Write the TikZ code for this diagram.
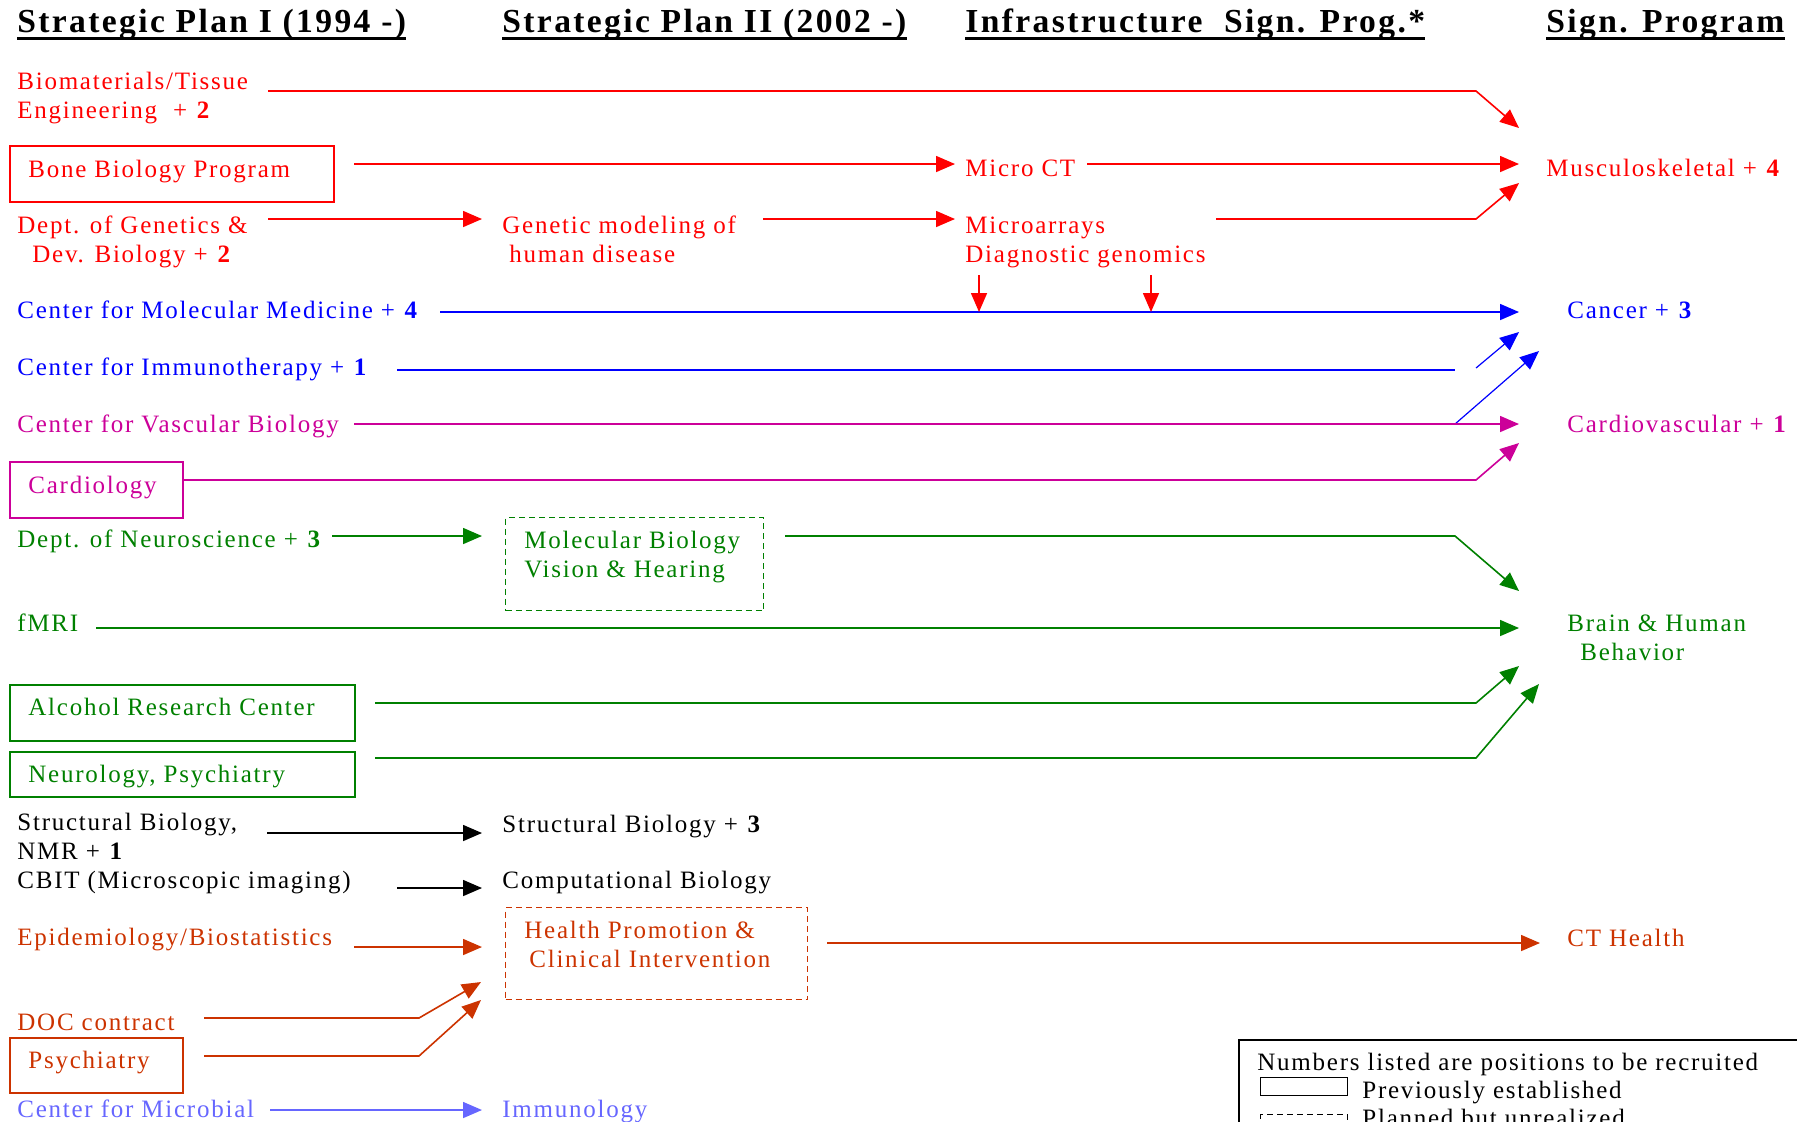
\documentclass[tikz,border=0pt]{standalone}
\usepackage{fontspec}
\setmainfont{Liberation Serif}[LetterSpace=7]
\usetikzlibrary{arrows.meta}

\definecolor{spred}{RGB}{255,0,0}
\definecolor{spblue}{RGB}{0,0,255}
\definecolor{spmag}{RGB}{204,0,153}
\definecolor{spgreen}{RGB}{0,128,0}
\definecolor{sporange}{RGB}{204,51,0}
\definecolor{splight}{RGB}{102,102,255}

\tikzset{
  hdr/.style={anchor=base west, inner sep=0pt, font=\fontsize{16.8}{18}\selectfont\bfseries},
  lbl/.style={anchor=base west, inner sep=0pt, align=left, font=\fontsize{12.5}{14.5}\selectfont},
  prevbox/.style={draw, line width=0.8pt, anchor=north west, inner sep=0pt},
  planbox/.style={draw, line width=0.6pt, dash pattern=on 3pt off 2pt, anchor=north west, inner sep=0pt},
  flow/.style={line width=0.8pt, -{Triangle[length=9.5pt,width=8pt]}},
  thinflow/.style={line width=0.6pt, -{Triangle[length=9.5pt,width=8pt]}},
}

\begin{document}
\begin{tikzpicture}[x=0.5pt,y=-0.5pt]
  \useasboundingbox (0,0) rectangle (1797,1121);

  % headings
  \node[hdr] (h1) at (17,32)   {Strategic Plan I (1994 -)};
  \node[hdr] (h2) at (502,32)  {Strategic Plan II (2002 -)};
  \node[hdr] (h3) at (965,32)  {Infrastructure~ Sign. Prog.*};
  \node[hdr] (h4) at (1546,32) {Sign. Program};
  \foreach \h in {h1,h2,h3,h4}
    \draw[line width=1.5pt] ([yshift=-3pt]\h.base west) -- ([yshift=-3pt]\h.base east);

  % musculoskeletal (two-line labels sit on the baseline of their last line)
  \node[lbl, spred] (bio) at (17,118) {Biomaterials/Tissue\\Engineering~ + \textbf{2}};
  \node[prevbox, spred, minimum width=162pt, minimum height=28pt] (bonebox) at (9,145) {};
  \node[lbl, spred] (bone) at (28,177) {Bone Biology Program};
  \node[lbl, spred] (gen) at (17,262) {Dept. of Genetics \&\\\hspace{7.5pt}Dev. Biology + \textbf{2}};
  \node[lbl, spred] (genmod) at (502,262) {Genetic modeling of\\\hspace{3.5pt}human disease};
  \node[lbl, spred] (microct) at (965,176) {Micro CT};
  \node[lbl, spred] (microarr) at (965,262) {Microarrays\\Diagnostic genomics};
  \node[lbl, spred] (musc) at (1546,176) {Musculoskeletal + \textbf{4}};

  \coordinate (bio-s) at (268,91);   \coordinate (bio-b) at (1476,91);  \coordinate (musc-1) at (1519,128);
  \coordinate (bone-s) at (354,164); \coordinate (ct-w) at (955,164);   \coordinate (ct-e) at (1087,164);
  \coordinate (musc-2) at (1519,164);
  \coordinate (gen-s) at (268,219);  \coordinate (mod-w) at (482,219);  \coordinate (mod-e) at (763,219);
  \coordinate (arr-w) at (955,219);  \coordinate (arr-e) at (1216,219); \coordinate (gen-b) at (1476,219);
  \coordinate (musc-3) at (1519,183);
  \coordinate (dg-1) at (979,275);   \coordinate (dg-2) at (1151,275);

  \draw[flow, spred] (bio-s) -- (bio-b) -- (musc-1);
  \draw[flow, spred] (gen-s) -- (mod-w);
  \draw[flow, spred] (arr-e) -- (gen-b) -- (musc-3);
  \path[flow, spred]
    (bone-s) edge (ct-w)
    (ct-e) edge (musc-2)
    (mod-e) edge (arr-w);

  % cancer
  \node[lbl, spblue] (cmm) at (17,318) {Center for Molecular Medicine + \textbf{4}};
  \node[lbl, spblue] (cim) at (17,375) {Center for Immunotherapy + \textbf{1}};
  \node[lbl, spblue] (cancer) at (1567,318) {Cancer + \textbf{3}};

  \coordinate (cmm-s) at (440,312);  \coordinate (cancer-1) at (1519,312);
  \coordinate (cim-s) at (397,370);  \coordinate (cim-e) at (1455,370);
  \coordinate (cim-d) at (1476,368); \coordinate (cancer-2) at (1519,332);
  \coordinate (cvb-d) at (1455,424); \coordinate (cancer-3) at (1539,351);

  \draw[flow, spblue] (cmm-s) -- (cancer-1);
  \draw[line width=0.8pt, spblue] (cim-s) -- (cim-e);
  \path[thinflow, spblue]
    (cim-d) edge (cancer-2)
    (cvb-d) edge (cancer-3);
  \path[flow, spred]
    (dg-1) edge (dg-1 |- cmm-s)
    (dg-2) edge (dg-2 |- cmm-s);

  % cardiovascular
  \node[lbl, spmag] (cvb) at (17,432) {Center for Vascular Biology};
  \node[prevbox, spmag, minimum width=86.5pt, minimum height=28pt] (cardbox) at (9,461) {};
  \node[lbl, spmag] (card) at (28,493) {Cardiology};
  \node[lbl, spmag] (cardio) at (1567,432) {Cardiovascular + \textbf{1}};

  \coordinate (cvb-s) at (354,424);  \coordinate (cardio-1) at (1519,424);
  \coordinate (card-b) at (1476,480); \coordinate (cardio-2) at (1519,443);

  \draw[flow, spmag] (cvb-s) -- (cardio-1);
  \draw[flow, spmag] (cardbox.east |- card-b) -- (card-b) -- (cardio-2);

  % brain & behavior
  \node[lbl, spgreen] (neuro) at (17,547) {Dept. of Neuroscience + \textbf{3}};
  \node[planbox, spgreen, minimum width=129pt, minimum height=46.5pt] (molbox) at (505,517) {};
  \node[lbl, spgreen] (molbio) at (524,577) {Molecular Biology\\Vision \& Hearing};
  \node[lbl, spgreen] (fmri) at (17,631) {fMRI};
  \node[prevbox, spgreen, minimum width=172.5pt, minimum height=28pt] (alcbox) at (9,684) {};
  \node[lbl, spgreen] (alc) at (28,715) {Alcohol Research Center};
  \node[prevbox, spgreen, minimum width=172.5pt, minimum height=22.5pt] (neurbox) at (9,751) {};
  \node[lbl, spgreen] (neur) at (28,782) {Neurology, Psychiatry};
  \node[lbl, spgreen] (brain) at (1567,660) {Brain \& Human\\\hspace{6.5pt}Behavior};

  \coordinate (neuro-s) at (332,536); \coordinate (mol-w) at (482,536);
  \coordinate (mol-e) at (785,536);   \coordinate (mol-b) at (1455,536); \coordinate (brain-1) at (1519,591);
  \coordinate (fmri-s) at (96,628);   \coordinate (brain-2) at (1519,628);
  \coordinate (alc-s) at (375,703);   \coordinate (alc-b) at (1476,703); \coordinate (brain-3) at (1519,666);
  \coordinate (neur-s) at (375,758);  \coordinate (neur-b) at (1476,758); \coordinate (brain-4) at (1539,684);

  \draw[flow, spgreen] (neuro-s) -- (mol-w);
  \draw[flow, spgreen] (mol-e) -- (mol-b) -- (brain-1);
  \draw[flow, spgreen] (fmri-s) -- (brain-2);
  \draw[flow, spgreen] (alc-s) -- (alc-b) -- (brain-3);
  \draw[flow, spgreen] (neur-s) -- (neur-b) -- (brain-4);

  % structural / computational biology
  \node[lbl] (sb) at (17,859) {Structural Biology,\\NMR + \textbf{1}};
  \node[lbl] (sb3) at (502,832) {Structural Biology + \textbf{3}};
  \node[lbl] (cbit) at (17,888) {CBIT (Microscopic imaging)};
  \node[lbl] (comp) at (502,888) {Computational Biology};

  \coordinate (sb-s) at (267,833);   \coordinate (sb3-w) at (482,833);
  \coordinate (cbit-s) at (397,888); \coordinate (comp-w) at (482,888);
  \path[flow]
    (sb-s) edge (sb3-w)
    (cbit-s) edge (comp-w);

  % CT health
  \node[lbl, sporange] (epi) at (17,945) {Epidemiology/Biostatistics};
  \node[planbox, sporange, minimum width=151pt, minimum height=46pt] (hpbox) at (505,907) {};
  \node[lbl, sporange] (hp) at (524,967) {Health Promotion \&\\\hspace{2.5pt}Clinical Intervention};
  \node[lbl, sporange] (doc) at (17,1030) {DOC contract};
  \node[prevbox, sporange, minimum width=86.5pt, minimum height=27.5pt] (psybox) at (9,1037) {};
  \node[lbl, sporange] (psy) at (28,1068) {Psychiatry};
  \node[lbl, sporange] (cth) at (1567,946) {CT Health};

  \coordinate (epi-s) at (354,947);  \coordinate (hp-1) at (482,947);
  \coordinate (hp-e) at (827,943);   \coordinate (cth-w) at (1540,943);
  \coordinate (doc-s) at (204,1018); \coordinate (doc-b) at (419,1018); \coordinate (hp-2) at (481,982);
  \coordinate (psy-s) at (204,1056); \coordinate (psy-b) at (419,1056); \coordinate (hp-3) at (481,1000);

  \draw[flow, sporange] (epi-s) -- (hp-1);
  \draw[flow, sporange] (hp-e) -- (cth-w);
  \draw[flow, sporange] (doc-s) -- (doc-b) -- (hp-2);
  \draw[flow, sporange] (psy-s) -- (psy-b) -- (hp-3);

  % immunology
  \node[lbl, splight] (micro) at (17,1117) {Center for Microbial};
  \node[lbl, splight] (immu) at (502,1117) {Immunology};
  \coordinate (micro-s) at (270,1110); \coordinate (immu-w) at (482,1110);
  \draw[flow, splight] (micro-s) -- (immu-w);

  % legend
  \node[prevbox, minimum width=300pt, minimum height=80pt] (legend) at (1238,1039) {};
  \node[lbl] (lg1) at (1257,1070) {Numbers listed are positions to be recruited};
  \node[prevbox, line width=0.6pt, minimum width=43.5pt, minimum height=9pt] (keyprev) at (1260,1077) {};
  \node[lbl] (lg2) at (1362,1098) {Previously established};
  \node[planbox, draw=black, minimum width=43.5pt, minimum height=9pt] (keyplan) at (1260,1114) {};
  \node[lbl] (lg3) at (1362,1126) {Planned but unrealized};
\end{tikzpicture}
\end{document}
